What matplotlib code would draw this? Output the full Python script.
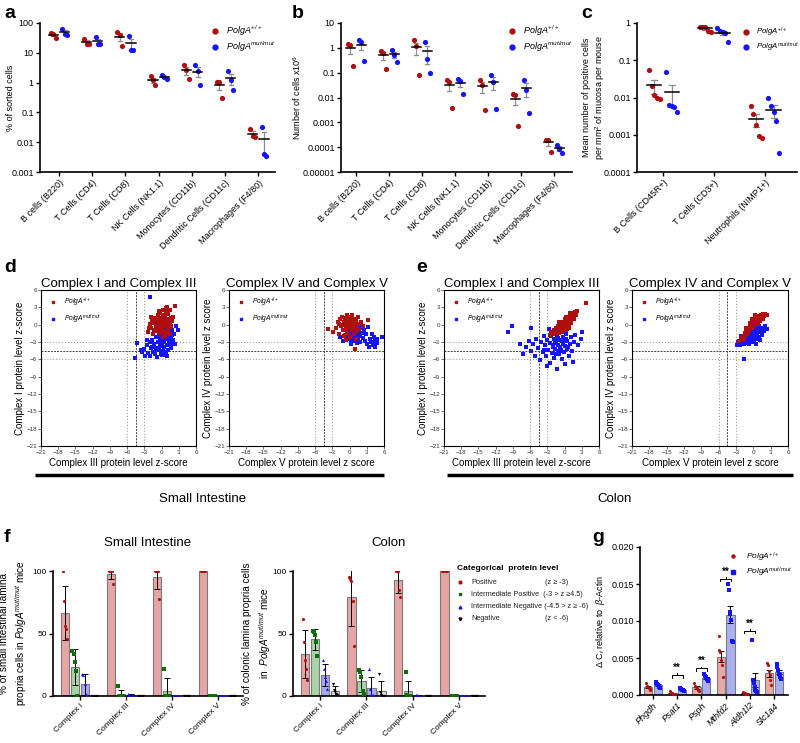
import numpy as np
import matplotlib.pyplot as plt
from matplotlib.lines import Line2D
from matplotlib.ticker import NullLocator

plt.rcParams['font.family'] = ['Liberation Sans', 'DejaVu Sans']
plt.rcParams['mathtext.fontset'] = 'custom'
plt.rcParams['mathtext.rm'] = 'Liberation Sans'
plt.rcParams['mathtext.it'] = 'Liberation Sans:italic'
plt.rcParams['mathtext.bf'] = 'Liberation Sans:bold'

RED = '#b00d0d'
BLUE = '#1414ff'
WT = r'$\it{PolgA}^{+/+}$'
MUT = r'$\it{PolgA}^{mut/mut}$'

# ---- panel a / b : sorted cells (3 mice per genotype)
cells_ab = ['B cells (B220)', 'T Cells (CD4)', 'T Cells (CD8)', 'NK Cells (NK1.1)',
            'Monocytes (CD11b)', 'Dendritic Cells (CD11c)', 'Macrophages (F4/80)']
a_wt = [[46, 41.7, 32], [29.8, 20.2, 19.2], [49.9, 38.6, 16.9], [1.62, 1.19, 0.85],
        [3.8, 2.6, 1.29], [1.05, 1.05, 0.30], [0.027, 0.016, 0.015]]
a_mut = [[64.5, 43.8, 40.6], [33.8, 19.2, 19.2], [36.6, 12.7, 12.7], [1.76, 1.55, 1.32],
         [3.8, 2.46, 0.81], [2.4, 1.2, 0.58], [0.032, 0.0039, 0.0034]]
a_ticks = [0.001, 0.01, 0.1, 1, 10, 100]
a_ticklabels = ['0.001', '0.01', '0.1', '1', '10', '100']

b_wt = [[1.38, 1.26, 0.186], [0.745, 0.62, 0.136], [2.0, 1.15, 0.078], [0.049, 0.042, 0.0039],
        [0.052, 0.033, 0.0032], [0.0143, 0.0122, 0.00073], [0.0002, 0.0002, 0.000065]]
b_mut = [[2.0, 1.72, 0.295], [0.84, 0.53, 0.27], [1.72, 0.344, 0.097], [0.057, 0.045, 0.0138],
         [0.08, 0.044, 0.0034], [0.049, 0.0207, 0.0024], [0.000128, 0.000083, 0.000059]]
b_ticks = [0.00001, 0.0001, 0.001, 0.01, 0.1, 1, 10]
b_ticklabels = ['0.00001', '0.0001', '0.001', '0.01', '0.1', '1', '10']

# ---- panel c : cells per mm2 mucosa (5 mice)
cells_c = ['B Cells (CD45R+)', 'T Cells (CD3+)', 'Neutrophils (NIMP1+)']
c_wt = [[0.055, 0.02, 0.0115, 0.0095, 0.0093], [0.8, 0.8, 0.78, 0.62, 0.58],
        [0.0059, 0.0037, 0.0018, 0.0009, 0.00084]]
c_mut = [[0.047, 0.0063, 0.006, 0.0054, 0.004], [0.72, 0.6, 0.58, 0.55, 0.3],
         [0.01, 0.0059, 0.0040, 0.0023, 0.00033]]
c_ticks = [0.0001, 0.001, 0.01, 0.1, 1]
c_ticklabels = ['0.0001', '0.001', '0.01', '0.1', '1']

# ---- panels d / e : single-cell z-scores (x, y)
si_c1c3_wt = [(-2.4, -1.2), (-2.0, 0.2), (-1.8, -0.5), (-1.6, 0.8), (-1.5, -1.6), (-1.3, 0.3), (-1.2, 1.2),
              (-1.0, -0.4), (-0.9, 0.9), (-0.8, -1.1), (-0.7, 0.4), (-0.6, 1.6), (-0.5, -0.2), (-0.4, 0.7),
              (-0.3, -1.5), (-0.2, 2.1), (-0.1, 0.1), (0.0, -0.8), (0.1, 1.0), (0.2, -0.3), (0.3, 2.6),
              (0.4, 0.5), (0.5, -1.2), (0.6, 1.5), (0.7, 0.0), (0.8, 2.2), (0.9, -0.6), (1.0, 0.9),
              (1.1, 1.8), (1.2, -1.0), (1.3, 0.4), (1.4, 2.5), (1.5, -0.4), (1.6, 1.2), (1.8, 0.6),
              (2.0, 1.4), (2.3, 3.2), (-1.1, -0.9), (-0.6, -0.7), (0.2, 1.7), (0.6, -1.9), (1.0, 3.0),
              (1.4, -1.6), (-0.3, 1.1), (0.4, -0.1), (0.9, 0.3), (1.7, -0.2), (-1.4, 1.0), (0.0, 0.6),
              (0.7, -1.4), (-2.2, -0.6), (-1.9, 1.4), (0.8, 2.9), (-0.5, 2.4), (1.2, 0.0), (0.3, -2.2)]
si_c1c3_mut = [(-3.4, -4.8), (-3.0, -4.2), (-2.8, -5.4), (-2.5, -3.6), (-2.3, -4.9), (-2.1, -3.0), (-2.0, -5.5),
               (-1.8, -4.1), (-1.6, -2.6), (-1.5, -4.7), (-1.3, -3.4), (-1.2, -5.1), (-1.0, -2.2), (-0.9, -4.0),
               (-0.8, -5.6), (-0.6, -3.0), (-0.5, -1.4), (-0.4, -4.4), (-0.3, -2.5), (-0.2, -3.7), (-0.1, -5.0),
               (0.0, -1.8), (0.1, -3.2), (0.2, -4.6), (0.3, -0.8), (0.4, -2.8), (0.5, -3.9), (0.6, -1.5),
               (0.7, -5.2), (0.8, -2.4), (0.9, -0.4), (1.0, -3.5), (1.1, -1.9), (1.2, -4.3), (1.3, -2.9),
               (1.4, 0.5), (1.5, -1.2), (1.6, -3.3), (1.7, -2.0), (1.8, -0.9), (2.0, -2.6), (2.2, -1.6),
               (2.5, -0.3), (2.8, -1.0), (-2.0, 4.8), (-4.7, -5.7), (-4.2, -3.1), (-1.4, -0.9), (-0.7, 0.3),
               (0.4, 1.2), (1.0, -5.5), (1.6, -4.0), (-0.2, -2.1), (0.8, -4.8), (1.2, 0.9), (-1.0, -4.4),
               (2.3, -3.4), (0.0, -5.3), (-2.6, -2.7), (1.9, -1.8), (-3.5, -4.4), (0.6, -0.2), (1.5, -2.7),
               (-1.7, -3.8), (0.2, -3.0)]
si_c4c5_wt = [(-2.8, -1.2), (-2.4, -0.5), (-2.1, 0.4), (-1.9, -1.6), (-1.7, 0.9), (-1.5, -0.2), (-1.3, 1.4),
              (-1.2, -0.9), (-1.0, 0.5), (-0.9, -1.9), (-0.8, 1.1), (-0.7, -0.4), (-0.6, 0.2), (-0.5, 1.7),
              (-0.4, -1.2), (-0.3, 0.7), (-0.2, -0.6), (-0.1, 1.3), (0.0, 0.0), (0.1, -2.1), (0.2, 0.9),
              (0.3, -0.3), (0.4, 1.6), (0.5, -1.0), (0.6, 0.4), (0.7, -1.6), (0.8, 1.0), (0.9, -0.5),
              (1.0, 0.3), (1.1, -2.4), (1.2, 0.8), (1.3, -1.1), (1.5, 0.1), (1.7, -0.7), (2.0, 0.5),
              (2.4, -0.3), (3.2, 0.8), (-3.7, -0.8), (0.9, -4.2), (-0.6, -2.6), (-1.1, 0.0), (0.3, 1.2),
              (-0.3, -0.2), (0.6, -0.2), (1.4, 1.3), (-1.8, 0.2), (-0.9, -0.9), (0.0, 0.6), (0.5, 0.8),
              (-0.2, -1.6)]
si_c4c5_mut = [(-1.2, -2.9), (-0.8, -1.8), (-0.5, -2.5), (-0.3, -0.8), (0.0, -1.5), (0.2, -2.8), (0.4, -0.4),
               (0.5, -1.9), (0.7, -1.2), (0.8, -2.4), (0.9, 0.2), (1.0, -0.9), (1.1, -1.7), (1.2, -2.2),
               (1.3, -0.5), (1.4, -1.3), (1.5, -2.6), (1.6, -0.1), (1.7, -1.0), (1.8, -1.9), (2.0, -0.6),
               (2.2, -1.4), (2.4, -2.3), (2.6, -0.9), (2.9, -1.6), (3.2, -0.4), (3.4, -3.8), (3.6, -2.4),
               (3.8, -3.0), (3.9, -1.6), (4.1, -3.5), (4.2, -2.2), (4.4, -2.9), (4.5, -3.9), (4.7, -2.5),
               (4.8, -3.2), (5.7, -2.1), (0.3, -3.3), (1.9, -3.0), (-0.2, -1.9), (0.6, -0.7), (1.3, -3.1),
               (2.7, -2.8), (3.0, -3.3), (-1.6, -2.2), (1.0, -2.9)]
co_c1c3_wt = [(-2.6, -1.8), (-2.2, -1.2), (-2.0, -1.6), (-1.8, -0.9), (-1.6, -1.4), (-1.5, -0.6), (-1.3, -1.1),
              (-1.2, -0.3), (-1.0, -0.9), (-0.9, -1.5), (-0.8, -0.2), (-0.7, -0.8), (-0.5, -0.4), (-0.4, -1.2),
              (-0.3, 0.3), (-0.2, -0.6), (-0.1, 0.1), (0.0, -0.3), (0.1, 0.6), (0.2, -0.9), (0.3, 0.2),
              (0.4, 0.9), (0.5, -0.4), (0.6, 0.5), (0.7, 1.2), (0.8, 0.1), (0.9, 0.8), (1.0, 1.6),
              (1.1, 0.4), (1.2, 1.1), (1.3, 2.0), (1.5, 1.4), (1.6, 0.9), (1.8, 2.2), (2.0, 1.7),
              (2.2, 2.4), (-0.6, 0.5), (0.0, 1.0), (0.4, -0.7), (0.8, -0.5), (1.2, 0.3), (-1.0, 0.4),
              (0.2, 1.3), (0.6, -0.2), (1.0, 2.1), (-0.2, -1.0), (0.5, 0.7), (3.7, 3.7)]
co_c1c3_mut = [(-6.8, -3.9), (-6.2, -2.8), (-5.9, -4.6), (-5.5, -3.3), (-5.2, -5.5), (-4.9, -2.4), (-4.6, -4.1),
               (-4.3, -6.2), (-4.1, -3.0), (-3.8, -4.8), (-3.6, -1.9), (-3.4, -3.6), (-3.2, -5.4), (-3.0, -2.7),
               (-2.8, -4.3), (-2.6, -6.6), (-2.5, -3.2), (-2.3, -1.5), (-2.2, -4.9), (-2.0, -3.8), (-1.9, -2.4),
               (-1.8, -5.8), (-1.6, -4.2), (-1.5, -3.1), (-1.4, -7.6), (-1.3, -1.9), (-1.2, -4.6), (-1.1, -3.5),
               (-1.0, -2.6), (-0.9, -5.1), (-0.8, -3.9), (-0.7, -1.2), (-0.6, -4.4), (-0.5, -2.9), (-0.4, -6.0),
               (-0.3, -3.4), (-0.2, -2.1), (-0.1, -4.8), (0.0, -3.7), (0.2, -1.6), (0.4, -4.2), (0.5, -2.8),
               (0.7, -5.4), (0.9, -3.3), (1.1, -2.2), (1.3, -4.6), (1.6, -3.0), (1.9, -1.8), (2.3, -3.6),
               (2.8, -2.5), (3.1, -1.3), (-9.2, -0.2), (-9.8, -1.3), (-7.8, -3.4), (-5.8, -0.6), (-7.2, -5.1),
               (-3.0, -7.2), (0.0, -6.8), (1.5, -6.5), (-2.7, -0.8), (-1.7, -3.0), (-0.8, -4.5), (-2.1, -3.5),
               (-0.2, -3.0), (0.6, -3.9), (-1.2, -2.3), (-3.5, -4.4), (-1.5, -5.0), (0.3, -2.4), (-2.4, -2.0)]
co_c4c5_wt = [(-2.4, -2.9), (-2.2, -2.3), (-2.0, -2.6), (-1.8, -1.9), (-1.7, -2.4), (-1.5, -1.5), (-1.4, -2.0),
              (-1.2, -1.1), (-1.1, -1.7), (-1.0, -0.8), (-0.9, -1.4), (-0.8, -0.5), (-0.7, -1.1), (-0.6, -0.2),
              (-0.5, -0.8), (-0.4, 0.1), (-0.3, -0.5), (-0.2, 0.3), (-0.1, -0.2), (0.0, 0.6), (0.1, 0.0),
              (0.2, 0.8), (0.3, 0.3), (0.4, 1.0), (0.5, 0.5), (0.6, 1.2), (0.7, 0.6), (0.8, 1.4),
              (0.9, 0.9), (1.0, 1.5), (1.2, 1.1), (1.3, 1.7), (1.5, 1.3), (1.7, 1.8), (1.9, 1.5),
              (2.1, 1.9), (2.3, 1.6), (-0.6, 0.3), (0.0, -0.4), (0.5, 1.5), (1.1, 0.7), (-1.3, -0.6),
              (-0.2, 0.9), (0.3, 1.6), (0.8, 0.2), (1.6, 1.0)]
co_c4c5_mut = [(-2.9, -3.5), (-2.6, -3.0), (-2.3, -3.6), (-2.1, -2.6), (-1.9, -3.2), (-1.7, -2.2), (-1.6, -3.4),
               (-1.4, -2.8), (-1.3, -1.8), (-1.1, -3.1), (-1.0, -2.4), (-0.9, -1.5), (-0.8, -3.3), (-0.7, -2.0),
               (-0.6, -1.1), (-0.5, -2.7), (-0.4, -1.6), (-0.3, -3.0), (-0.2, -0.9), (-0.1, -2.2), (0.0, -1.4),
               (0.1, -2.9), (0.2, -0.6), (0.3, -1.9), (0.4, -1.0), (0.5, -2.5), (0.6, -0.4), (0.7, -1.6),
               (0.8, -0.9), (0.9, -2.1), (1.0, -0.2), (1.1, -1.3), (1.3, -0.7), (1.5, -1.8), (1.7, -0.5),
               (1.9, -1.1), (2.1, -0.3), (2.4, -0.8), (-1.7, -6.0), (-0.5, -0.3), (0.4, -3.3), (-2.2, -1.9),
               (1.2, -2.6), (-1.2, -1.0)]
z_ticks = [-21, -18, -15, -12, -9, -6, -3, 0, 3, 6]

# ---- panel f : % of cells in each category (5 mice), per complex
complexes = ['Complex I', 'Complex III', 'Complex IV', 'Complex V']
si_pos = [[100, 76, 56, 54, 46], [100, 100, 100, 100, 90], [100, 100, 100, 100, 78], [100, 100, 100, 100, 100]]
si_ipos = [[36, 34, 27, 20, 0], [8, 0, 0, 0, 0], [22, 0, 0, 0, 0], [0, 0, 0, 0, 0]]
si_ineg = [[18, 17, 10, 2, 0], [2, 1, 0, 0, 0], [0, 0, 0, 0, 0], [0, 0, 0, 0, 0]]
si_neg = [[0, 0, 0, 0, 0], [0, 0, 0, 0, 0], [0, 0, 0, 0, 0], [0, 0, 0, 0, 0]]
co_pos = [[62, 43, 29, 22, 13], [95, 94, 92, 76, 40], [100, 100, 100, 85, 79], [100, 100, 100, 100, 100]]
co_ipos = [[52, 51, 49, 43, 32], [21, 19, 15, 4, 2], [19, 1, 0, 0, 0], [0, 0, 0, 0, 0]]
co_ineg = [[29, 22, 15, 12, 6], [22, 6, 2, 1, 0], [1, 0.5, 0, 0, 0], [0, 0, 0, 0, 0]]
co_neg = [[10, 5, 3, 2, 1], [18, 3, 1, 0, 0], [0, 0, 0, 0, 0], [0, 0, 0, 0, 0]]
cat_labels = ['Positive', 'Intermediate Positive  (-3 > z \u22654.5)',
              'Intermediate Negative (-4.5 > z \u2265 -6)', 'Negative']
cat_ranges = ['(z \u2265 -3)', '', '', '(z < -6)']

# ---- panel g : qPCR
genes = ['Phgdh', 'Psat1', 'Psph', 'Mthfd2', 'Aldh1l2', 'Slc1a4']
g_wt = [[0.0016, 0.0012, 0.0011, 0.001, 0.0008, 0.0007],
        [0.0005, 0.0003, 0.0003, 0.0002, 0.0002, 0.0001],
        [0.0016, 0.0012, 0.0011, 0.001, 0.0007, 0.0005],
        [0.008, 0.0061, 0.0058, 0.0047, 0.0041, 0.0024],
        [0.0004, 0.0003, 0.0003, 0.0002, 0.0002, 0.0002],
        [0.0043, 0.0041, 0.0032, 0.0027, 0.002, 0.0014]]
g_mut = [[0.0018, 0.0016, 0.0015, 0.0013, 0.0012, 0.0011, 0.0009],
         [0.0009, 0.0008, 0.0008, 0.0007, 0.0007, 0.0006, 0.0006],
         [0.0029, 0.0026, 0.0024, 0.0023, 0.0022, 0.0021, 0.0019],
         [0.015, 0.0142, 0.0112, 0.011, 0.0102, 0.0073, 0.0072],
         [0.0075, 0.002, 0.0016, 0.0011, 0.0007, 0.0005, 0.0004],
         [0.0042, 0.0038, 0.0034, 0.0029, 0.0027, 0.0024, 0.0021]]
sig_idx = [1, 2, 3, 4]
sig_y = [0.0027, 0.0036, 0.0157, 0.0087]

W, H = 800, 743
fig = plt.figure(figsize=(8, 7.43), dpi=100)


def box(l, t, r, b):
    return [l / W, 1 - b / H, (r - l) / W, (b - t) / H]


def style(ax, fs=6):
    for s in ('top', 'right'):
        ax.spines[s].set_visible(False)
    for s in ('left', 'bottom'):
        ax.spines[s].set_linewidth(1.2)
    ax.tick_params(width=1, length=3, labelsize=fs, pad=1.5)


def dot_panel(ax, wt, mut, cats, ticks, ticklabels, ylabel, spread, xlim, leg_anchor, leg_fs, label_x):
    for i in range(len(cats)):
        for vals, col, dx in ((wt[i], RED, -0.17), (mut[i], BLUE, 0.17)):
            v = np.array(vals, dtype=float)
            n = len(v)
            m = v.mean()
            se = v.std(ddof=1) / np.sqrt(n)
            xc = i + dx
            ax.plot([xc, xc], [m - se, m + se], color='#8c8c8c', lw=0.9, zorder=1)
            for yy in (m - se, m + se):
                ax.plot([xc - 0.06, xc + 0.06], [yy, yy], color='#8c8c8c', lw=0.9, zorder=1)
            ax.scatter(xc + np.linspace(-spread, spread, n), v, s=14, color=col, lw=0, zorder=2)
            ax.plot([xc - 0.14, xc + 0.14], [m, m], color='black', lw=1.1, zorder=3)
    ax.set_yscale('log')
    ax.yaxis.set_minor_locator(NullLocator())
    ax.set_yticks(ticks)
    ax.set_yticklabels(ticklabels)
    ax.set_ylim(ticks[0], ticks[-1])
    ax.set_xlim(*xlim)
    ax.set_xticks(range(len(cats)))
    ax.set_xticklabels(cats, rotation=45, ha='right', va='top', rotation_mode='anchor', fontsize=6.5)
    ax.set_ylabel(ylabel, fontsize=6.5)
    ax.yaxis.set_label_coords(label_x, 0.5)
    style(ax, 6.5)
    hs = [Line2D([], [], ls='none', marker='o', ms=3.5, color=RED),
          Line2D([], [], ls='none', marker='o', ms=3.5, color=BLUE)]
    ax.legend(hs, [WT, MUT], loc='upper right', frameon=False, fontsize=leg_fs,
              handletextpad=0.3, borderaxespad=0.0, labelspacing=0.2, bbox_to_anchor=leg_anchor)


ax_a = fig.add_axes(box(40, 23, 275, 172))
dot_panel(ax_a, a_wt, a_mut, cells_ab, a_ticks, a_ticklabels, '% of sorted cells', 0.07,
          (-0.57, 6.5), (1.02, 1.02), 6.5, -0.105)
ax_b = fig.add_axes(box(341, 23, 572, 172))
dot_panel(ax_b, b_wt, b_mut, cells_ab, b_ticks, b_ticklabels, r'Number of cells x10$^6$', 0.07,
          (-0.45, 6.55), (1.02, 1.02), 6.5, -0.165)
ax_c = fig.add_axes(box(637, 23, 797, 172))
dot_panel(ax_c, c_wt, c_mut, cells_c, c_ticks, c_ticklabels,
          'Mean number of positive cells\nper mm$^2$ of mucosa per mouse', 0.11, (-0.51, 2.63),
          (1.03, 1.0), 5.6, -0.19)


def z_panel(ax, wt_pts, mut_pts, title, xlabel, ylabel):
    for v in (-6, -3):
        ax.axvline(v, color='#a0a0a0', ls=':', lw=0.8, zorder=1)
        ax.axhline(v, color='#a0a0a0', ls=':', lw=0.8, zorder=1)
    ax.axvline(-4.5, color='#444444', ls=(0, (2, 1.2)), lw=0.7, zorder=1)
    ax.axhline(-4.5, color='#444444', ls=(0, (2, 1.2)), lw=0.7, zorder=1)
    mut = np.array(mut_pts)
    wt = np.array(wt_pts)
    ax.scatter(mut[:, 0], mut[:, 1], s=6, marker='s', color=BLUE, lw=0, zorder=2)
    ax.scatter(wt[:, 0], wt[:, 1], s=6, marker='s', color=RED, lw=0, zorder=3)
    ax.set_xlim(-21, 6)
    ax.set_ylim(-21, 6)
    ax.set_xticks(z_ticks)
    ax.set_yticks(z_ticks)
    ax.tick_params(labelsize=4.5, length=2, width=0.6, pad=1, colors='#555555', labelcolor='#333333')
    for s in ax.spines.values():
        s.set_linewidth(0.8)
    ax.set_title(title, fontsize=9.5, pad=1.5)
    ax.set_xlabel(xlabel, fontsize=7, labelpad=2)
    ax.set_ylabel(ylabel, fontsize=7, labelpad=1)
    hs = [Line2D([], [], ls='none', marker='s', ms=1.8, color=RED),
          Line2D([], [], ls='none', marker='s', ms=1.8, color=BLUE)]
    ax.legend(hs, [WT, MUT], loc='upper left', frameon=False, fontsize=4.8,
              handletextpad=0.6, labelspacing=0.6, borderaxespad=0.4)


z_panel(fig.add_axes(box(41, 290, 196, 446)), si_c1c3_wt, si_c1c3_mut, 'Complex I and Complex III',
        'Complex III protein level z-score', 'Complex I protein level z-score')
z_panel(fig.add_axes(box(229, 290, 384, 446)), si_c4c5_wt, si_c4c5_mut, 'Complex IV and Complex V',
        'Complex V protein level z score', 'Complex IV protein level z score')
z_panel(fig.add_axes(box(444, 290, 599, 446)), co_c1c3_wt, co_c1c3_mut, 'Complex I and Complex III',
        'Complex III protein level z-score', 'Complex I protein level z-score')
z_panel(fig.add_axes(box(632, 290, 788, 446)), co_c4c5_wt, co_c4c5_mut, 'Complex IV and Complex V',
        'Complex V protein level z score', 'Complex IV protein level z score')

cat_face = ['#e6a4a4', '#a9d2a9', '#a7a9f0', '#d9d9d9']
cat_dot = [RED, '#0b6e0b', BLUE, 'black']
cat_mark = ['o', 's', '^', 'v']


def cat_panel(ax, groups, title, ylabel, label_x):
    w = 0.215
    for k, data in enumerate(groups):
        for i in range(len(complexes)):
            v = np.array(data[i], dtype=float)
            m = v.mean()
            sd = v.std(ddof=1)
            x = i + (k - 1.5) * w
            ax.bar(x, m, width=w * 0.82, color=cat_face[k], edgecolor='#7a7a7a', lw=0.8, zorder=1)
            if sd > 0:
                ax.errorbar(x, m, yerr=sd, color='black', lw=0.7, capsize=2, capthick=0.7, zorder=2)
            ax.scatter(x + np.linspace(-0.05, 0.05, len(v)), v, s=5, marker=cat_mark[k],
                       color=cat_dot[k], lw=0, zorder=3)
    ax.set_xlim(-0.58, 3.55)
    ax.set_ylim(0, 100)
    ax.set_yticks([0, 50, 100])
    ax.set_xticks(range(len(complexes)))
    ax.set_xticklabels(complexes, rotation=45, ha='right', va='top', rotation_mode='anchor')
    style(ax, 6)
    ax.set_title(title, fontsize=9.5, pad=18)
    ax.set_ylabel(ylabel, fontsize=7.2, linespacing=1.4)
    ax.yaxis.set_label_coords(label_x, 0.5)


cat_panel(fig.add_axes(box(53, 571, 243, 696)), [si_pos, si_ipos, si_ineg, si_neg], 'Small Intestine',
          '% of small intestinal lamina\npropria cells in ' + r'$\it{PolgA}^{mut/mut}$' + ' mice', -0.125)
cat_panel(fig.add_axes(box(293, 571, 485, 696)), [co_pos, co_ipos, co_ineg, co_neg], 'Colon',
          '% of colonic lamina propria cells\nin  ' + r'$\it{PolgA}^{mut/mut}$' + ' mice', -0.105)

ax_g = fig.add_axes(box(640, 547, 788, 695))
gx = np.arange(len(genes))
for vals_list, face, col, mk, dx in ((g_wt, '#e8a8a8', RED, 'o', -0.2), (g_mut, '#abb0f4', BLUE, 's', 0.2)):
    for i, vals in enumerate(vals_list):
        v = np.array(vals)
        m = v.mean()
        se = v.std(ddof=1) / np.sqrt(len(v))
        ax_g.bar(gx[i] + dx, m, width=0.34, color=face, edgecolor='#7a7a7a', lw=0.8, zorder=1)
        ax_g.errorbar(gx[i] + dx, m, yerr=se, color='black', lw=0.7, capsize=2, capthick=0.7, zorder=2)
        ax_g.scatter(gx[i] + dx + np.linspace(-0.09, 0.09, len(v)), v, s=5, marker=mk, color=col,
                     lw=0, zorder=3)
for i, yb in zip(sig_idx, sig_y):
    x1, x2 = gx[i] - 0.22, gx[i] + 0.22
    h = 0.00035
    ax_g.plot([x1, x1, gx[i], gx[i], gx[i], x2, x2], [yb - h, yb, yb, yb + h * 0.6, yb, yb, yb - h],
              color='black', lw=0.7)
    ax_g.text(gx[i], yb + 0.0003, '**', ha='center', va='bottom', fontsize=7, fontweight='bold')
ax_g.set_xlim(-0.54, 5.58)
ax_g.set_ylim(0, 0.020)
ax_g.set_yticks([0, 0.005, 0.010, 0.015, 0.020])
ax_g.set_yticklabels(['0.000', '0.005', '0.010', '0.015', '0.020'])
ax_g.set_xticks(gx)
ax_g.set_xticklabels(genes, rotation=45, ha='right', va='top', rotation_mode='anchor', style='italic')
style(ax_g, 6.5)
ax_g.set_ylabel(r'$\Delta$ C$_t$ relative to  $\beta$-Actin', fontsize=6.5, labelpad=3)
hs = [Line2D([], [], ls='none', marker='o', ms=2.2, color=RED),
      Line2D([], [], ls='none', marker='s', ms=2.2, color=BLUE)]
ax_g.legend(hs, [WT, MUT], loc='upper right', frameon=False, fontsize=6,
            handletextpad=0.5, borderaxespad=0.0, labelspacing=0.3, bbox_to_anchor=(1.05, 1.0))

# overlay in pixel coordinates for panel letters, tissue bars and legend of f
ov = fig.add_axes([0, 0, 1, 1], zorder=10)
ov.patch.set_visible(False)
ov.set_xlim(0, W)
ov.set_ylim(H, 0)
ov.axis('off')
for ch, x, y in (('a', 10, 14), ('b', 298, 13), ('c', 587, 14), ('d', 10, 267),
                 ('e', 422, 267), ('f', 7, 537), ('g', 598, 538)):
    ov.text(x, y, ch, fontsize=14, fontweight='bold', ha='center', va='center')
ov.plot([35, 384], [475, 475], color='black', lw=2.5, solid_capstyle='butt')
ov.plot([447, 793], [475, 475], color='black', lw=2.5, solid_capstyle='butt')
ov.text(203, 499, 'Small Intestine', fontsize=9.5, ha='center', va='center')
ov.text(615, 499, 'Colon', fontsize=9.5, ha='center', va='center')

ov.text(457, 569, 'Categorical  protein level', fontsize=6, fontweight='bold', va='center')
for k, yy in enumerate([582, 594, 607, 619]):
    ov.plot([460], [yy], ls='none', marker=cat_mark[k], ms=2, color=cat_dot[k])
    ov.text(471, yy, cat_labels[k], fontsize=5.3, va='center', color='#222222')
    if cat_ranges[k]:
        ov.text(545, yy, cat_ranges[k], fontsize=5.3, va='center', color='#222222')

fig.savefig('out.png', dpi=100)
